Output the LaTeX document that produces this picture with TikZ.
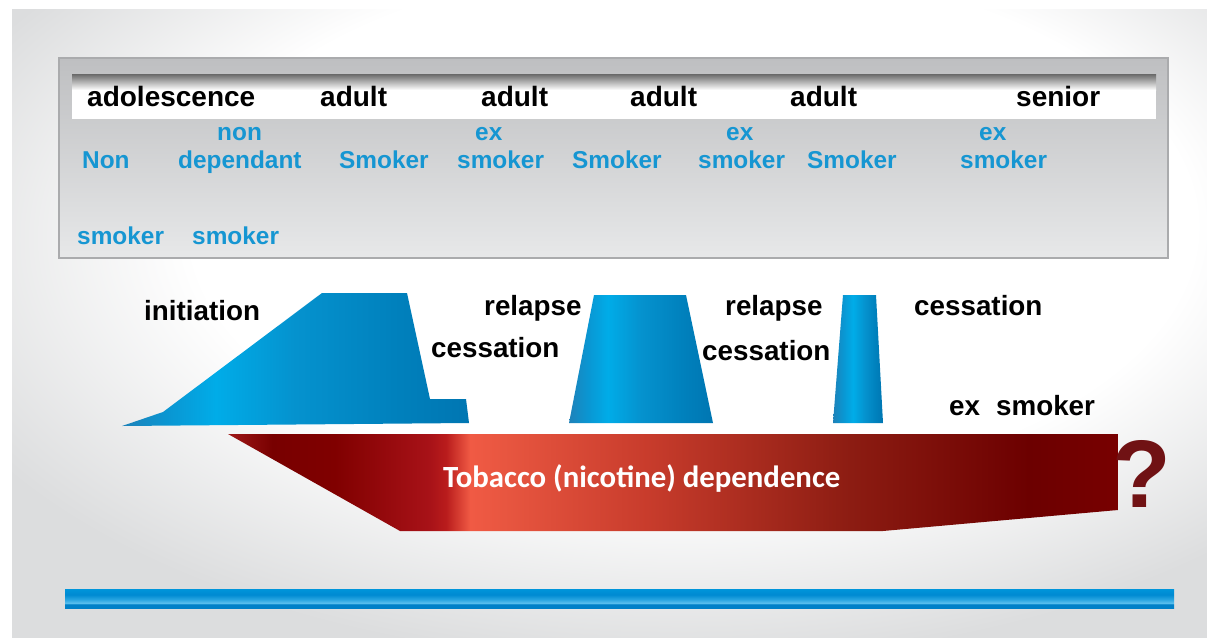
\documentclass[tikz,border=0pt]{standalone}
\usepackage{fontspec}
\setmainfont{Liberation Sans}
\newfontfamily\carl{Carlito}
\definecolor{statblue}{RGB}{22,150,210}
\definecolor{boxedge}{RGB}{170,171,173}
\definecolor{boxtop}{RGB}{190,191,193}
\definecolor{boxbot}{RGB}{231,232,233}
\definecolor{stripdark}{RGB}{105,105,105}
\definecolor{bgedge}{RGB}{220,221,222}
\definecolor{qred}{RGB}{112,18,20}
\definecolor{bA0}{RGB}{30,130,185}
\definecolor{bA1}{RGB}{10,150,210}
\definecolor{bA2}{RGB}{0,172,232}
\definecolor{bA3}{RGB}{5,146,206}
\definecolor{bA4}{RGB}{0,128,188}
\definecolor{bA5}{RGB}{0,118,178}
\definecolor{r0}{RGB}{160,25,25}
\definecolor{r1}{RGB}{120,0,0}
\definecolor{r2}{RGB}{128,0,0}
\definecolor{r3}{RGB}{168,18,24}
\definecolor{r4}{RGB}{185,28,28}
\definecolor{r5}{RGB}{240,90,68}
\definecolor{r6}{RGB}{232,86,64}
\definecolor{r7}{RGB}{200,60,44}
\definecolor{r8}{RGB}{140,28,18}
\definecolor{r9}{RGB}{108,0,0}
\definecolor{r10}{RGB}{120,0,0}
\definecolor{bar0}{RGB}{0,128,200}
\definecolor{bar1}{RGB}{90,192,238}
\definecolor{bar2}{RGB}{80,185,235}
\definecolor{bar3}{RGB}{40,165,225}
\definecolor{bar4}{RGB}{0,138,210}
\definecolor{bar5}{RGB}{0,149,218}
\pgfdeclarehorizontalshading{blueA}{100bp}{color(0bp)=(bA0); color(25bp)=(bA0); color(31.5bp)=(bA1); color(38.5bp)=(bA2); color(50bp)=(bA3); color(65bp)=(bA4); color(75bp)=(bA5); color(100bp)=(bA5)}
\pgfdeclarehorizontalshading{blueB}{100bp}{color(0bp)=(bA0); color(25bp)=(bA0); color(35bp)=(bA1); color(45bp)=(bA2); color(57bp)=(bA3); color(68bp)=(bA4); color(75bp)=(bA5); color(100bp)=(bA5)}
\pgfdeclarehorizontalshading{redsh}{100bp}{color(0bp)=(r0); color(25bp)=(r0); color(27.5bp)=(r1); color(31bp)=(r2); color(36.35bp)=(r3); color(37.25bp)=(r4); color(38.6bp)=(r5); color(40.5bp)=(r6); color(48.5bp)=(r7); color(60bp)=(r8); color(70bp)=(r9); color(75bp)=(r10); color(100bp)=(r10)}
\pgfdeclareverticalshading{barsh}{100bp}{color(0bp)=(bar0); color(25bp)=(bar0); color(35bp)=(bar0); color(37bp)=(bar1); color(40bp)=(bar2); color(47.5bp)=(bar3); color(60bp)=(bar4); color(75bp)=(bar5); color(100bp)=(bar5)}
\pgfdeclareradialshading{bgsh}{\pgfpoint{5bp}{11bp}}{color(0bp)=(white); color(21bp)=(white); color(33bp)=(bgedge); color(70bp)=(bgedge)}
\begin{document}
\begin{tikzpicture}[x=1pt,y=-1pt,
  hdr/.style={font=\bfseries\fontsize{28}{28}\selectfont, text=black, inner sep=0pt, anchor=base west},
  stat/.style={font=\bfseries\fontsize{24.4}{24.4}\selectfont, text=statblue, inner sep=0pt, anchor=base west},
  lbl/.style={font=\bfseries\fontsize{27.8}{27.8}\selectfont, text=black, inner sep=0pt, anchor=base west}]
\useasboundingbox (0,0) rectangle (1207,637);
% background
\fill[white] (0,0) rectangle (1207,637);
\shade[shading=bgsh] (12,9) rectangle (1207,637);
% top box
\draw[draw=boxedge, line width=2pt, top color=boxtop, bottom color=boxbot] (59,58) rectangle (1168,258);
\fill[white] (72,74) rectangle (1156,119);
\shade[top color=stripdark, bottom color=white] (72,74) rectangle (1156,90);
% header
\node[hdr] (h1) at (87,106) {adolescence};
\node[hdr] (h2) at (320,106) {adult};
\node[hdr] (h3) at (481,106) {adult};
\node[hdr] (h4) at (630,106) {adult};
\node[hdr] (h5) at (790,106) {adult};
\node[hdr] (h6) at (1016,106) {senior};
% statuses
\node[stat] (s1a) at (82,168) {Non};
\node[stat] (s1b) at (77,244) {smoker};
\node[stat] (s2a) at (217,140) {non};
\node[stat] (s2b) at (178,168) {dependant};
\node[stat] (s2c) at (192,244) {smoker};
\node[stat] (s3) at (339,168) {Smoker};
\node[stat] (s4a) at (475,140) {ex};
\node[stat] (s4b) at (457,168) {smoker};
\node[stat] (s5) at (572,168) {Smoker};
\node[stat] (s6a) at (726,140) {ex};
\node[stat] (s6b) at (698,168) {smoker};
\node[stat] (s7) at (807,168) {Smoker};
\node[stat] (s8a) at (979,140) {ex};
\node[stat] (s8b) at (960,168) {smoker};
% blue shapes
\shade[shading=blueA] (122,426) -- (163,412) -- (322,293) -- (407,293) -- (430,399) -- (466,399) -- (469,423) -- cycle;
\shade[shading=blueA] (594,295) -- (686,295) -- (713,423) -- (569,423) -- cycle;
\shade[shading=blueB] (843,295) -- (876,295) -- (883,423) -- (833,423) -- cycle;
% labels
\node[lbl] (l1) at (144,320) {initiation};
\node[lbl] (l2) at (484,315) {relapse};
\node[lbl] (l3) at (431,357) {cessation};
\node[lbl] (l4) at (725,315) {relapse};
\node[lbl] (l5) at (702,360) {cessation};
\node[lbl] (l6) at (914,315) {cessation};
\node[lbl] (l7) at (949,415) {ex\hspace{16pt}smoker};
% dependence band
\shade[shading=redsh] (228,434) -- (1118,434) -- (1118,510) -- (883,531) -- (400,531) -- cycle;
\node[font=\carl\bfseries\fontsize{30.8}{30.8}\selectfont, text=white, inner sep=0pt, anchor=base west] (dep) at (443,487) {Tobacco (nicotine) dependence};
\node[font=\bfseries\fontsize{96}{96}\selectfont, text=qred, inner sep=0pt, anchor=base west] (q) at (1112,507) {?};
% bottom bar
\shade[shading=barsh] (65,589) rectangle (1174,608);
\end{tikzpicture}
\end{document}
